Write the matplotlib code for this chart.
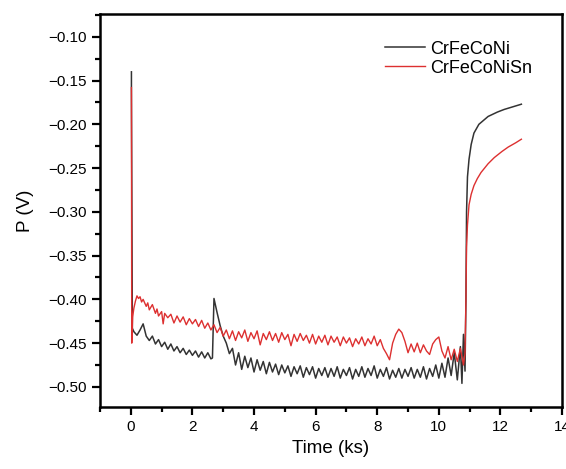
import numpy as np
import matplotlib.pyplot as plt
from matplotlib.ticker import MultipleLocator

plt.rcParams['font.family'] = ['Liberation Sans', 'DejaVu Sans']

# ---------------- data ----------------
# CrFeCoNi: start spike, early decay, bump near 2.7 ks, plateau, recovery
t_ni_start = [0.02, 0.02, 0.05]
p_ni_start = [-0.140, -0.158, -0.433]

t_ni_early = np.round(np.arange(0.1, 2.65, 0.1), 2)
p_ni_early = [-0.437, -0.441, -0.435, -0.428, -0.442, -0.447, -0.442, -0.451, -0.446, -0.454,
              -0.449, -0.457, -0.451, -0.459, -0.454, -0.461, -0.456, -0.463, -0.458, -0.464,
              -0.459, -0.466, -0.460, -0.467, -0.461, -0.468]

t_ni_bump = [2.65, 2.70, 2.80, 2.90, 3.00, 3.10, 3.20]
p_ni_bump = [-0.467, -0.399, -0.415, -0.430, -0.442, -0.450, -0.462]

t_ni_flat = np.round(np.arange(3.3, 10.75, 0.1), 2)
p_ni_flat = [-0.456, -0.475, -0.461, -0.480, -0.465, -0.478, -0.467, -0.483, -0.469, -0.481,
             -0.471, -0.485, -0.472, -0.483, -0.474, -0.486, -0.475, -0.484, -0.476, -0.488,
             -0.477, -0.485, -0.476, -0.489, -0.478, -0.486, -0.477, -0.490, -0.479, -0.487,
             -0.478, -0.489, -0.479, -0.488, -0.477, -0.490, -0.480, -0.487, -0.478, -0.491,
             -0.480, -0.488, -0.477, -0.489, -0.479, -0.487, -0.476, -0.490, -0.480, -0.488,
             -0.478, -0.491, -0.481, -0.489, -0.479, -0.490, -0.480, -0.488, -0.478, -0.490,
             -0.480, -0.489, -0.477, -0.491, -0.479, -0.488, -0.475, -0.490, -0.473, -0.489,
             -0.467, -0.487, -0.461, -0.492, -0.454]

t_ni_rise = [10.75, 10.80, 10.85, 10.88, 10.90, 10.93, 10.98, 11.05, 11.14, 11.30,
             11.60, 11.90, 12.12, 12.40, 12.68]
p_ni_rise = [-0.496, -0.440, -0.482, -0.400, -0.300, -0.260, -0.240, -0.223, -0.210, -0.200,
             -0.191, -0.186, -0.183, -0.180, -0.177]

# CrFeCoNiSn
t_sn_start = [0.02, 0.03, 0.06, 0.10, 0.15, 0.20, 0.25, 0.30, 0.35, 0.40, 0.50, 0.55, 0.60,
              0.70, 0.80, 0.85, 0.90, 1.00, 1.05, 1.10]
p_sn_start = [-0.158, -0.450, -0.420, -0.410, -0.402, -0.396, -0.399, -0.397, -0.403, -0.400,
              -0.408, -0.404, -0.412, -0.406, -0.416, -0.411, -0.419, -0.414, -0.428, -0.416]

t_sn_flat = np.round(np.arange(1.2, 10.85, 0.1), 2)
p_sn_flat = [-0.421, -0.417, -0.427, -0.419, -0.426, -0.420, -0.429, -0.422, -0.428, -0.423,
             -0.431, -0.424, -0.433, -0.427, -0.435, -0.429, -0.438, -0.432, -0.442, -0.435,
             -0.445, -0.436, -0.447, -0.437, -0.444, -0.435, -0.448, -0.438, -0.445, -0.436,
             -0.452, -0.439, -0.446, -0.437, -0.447, -0.439, -0.449, -0.438, -0.446, -0.440,
             -0.453, -0.440, -0.448, -0.439, -0.447, -0.441, -0.450, -0.440, -0.451, -0.442,
             -0.449, -0.441, -0.452, -0.442, -0.449, -0.443, -0.453, -0.443, -0.450, -0.444,
             -0.454, -0.445, -0.451, -0.443, -0.453, -0.445, -0.451, -0.442, -0.453, -0.446,
             -0.456, -0.462, -0.469, -0.450, -0.440, -0.434, -0.438, -0.448, -0.461, -0.451,
             -0.460, -0.450, -0.461, -0.452, -0.459, -0.463, -0.451, -0.446, -0.443, -0.459,
             -0.467, -0.454, -0.469, -0.457, -0.471, -0.456, -0.475]

t_sn_rise = [10.85, 10.88, 10.90, 10.93, 10.98, 11.05, 11.14, 11.25, 11.37, 11.60,
             11.80, 12.05, 12.25, 12.50, 12.68]
p_sn_rise = [-0.462, -0.400, -0.340, -0.315, -0.292, -0.280, -0.270, -0.262, -0.255, -0.245,
             -0.238, -0.231, -0.226, -0.221, -0.217]

t_ni = np.concatenate([t_ni_start, t_ni_early, t_ni_bump, t_ni_flat, t_ni_rise])
p_ni = np.concatenate([p_ni_start, p_ni_early, p_ni_bump, p_ni_flat, p_ni_rise])
t_sn = np.concatenate([t_sn_start, t_sn_flat, t_sn_rise])
p_sn = np.concatenate([p_sn_start, p_sn_flat, p_sn_rise])

# ---------------- figure ----------------
fig = plt.figure(figsize=(5.66, 4.69), dpi=100)
ax = fig.add_axes([0.1767, 0.1322, 0.8163, 0.8378])

ax.plot(t_ni, p_ni, color='#333333', lw=1.1, label='CrFeCoNi')
ax.plot(t_sn, p_sn, color='#dd3030', lw=1.0, label='CrFeCoNiSn')

ax.set_xlim(-1, 14)
ax.set_ylim(-0.523, -0.074)
ax.xaxis.set_major_locator(MultipleLocator(2))
ax.xaxis.set_minor_locator(MultipleLocator(1))
ax.yaxis.set_major_locator(MultipleLocator(0.05))
ax.yaxis.set_minor_locator(MultipleLocator(0.025))
ax.yaxis.set_major_formatter(plt.FuncFormatter(lambda v, p: f"{v:.2f}".replace('-', '\u2212')))

for s in ax.spines.values():
    s.set_linewidth(1.8)
ax.tick_params(which='major', direction='out', length=6, width=1.6, labelsize=11)
ax.tick_params(which='minor', direction='out', length=3.5, width=1.6)

ax.set_xlabel('Time (ks)', fontsize=13.5, labelpad=4)
ax.set_ylabel('P (V)', fontsize=13.5, labelpad=10)

ax.legend(loc='upper left', frameon=False, fontsize=13, handlelength=2.2,
          handletextpad=0.3, labelspacing=0.1, borderpad=0, borderaxespad=0,
          bbox_to_anchor=(0.617, 0.932))

fig.savefig('out.png', dpi=100)
